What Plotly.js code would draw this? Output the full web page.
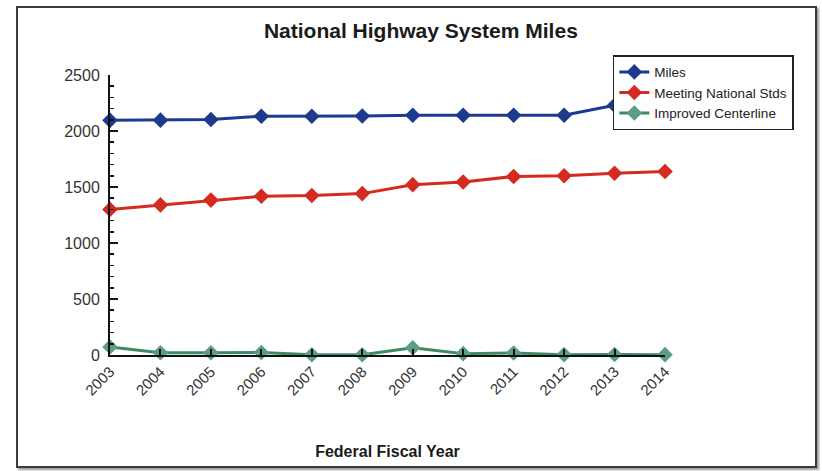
<!DOCTYPE html>
<html>
<head>
<meta charset="utf-8">
<script src="https://cdn.plot.ly/plotly-3.0.1.min.js"></script>
<style>
html,body{margin:0;padding:0;background:#fff;}
#wrap{position:relative;width:822px;height:471px;}
#chart{position:absolute;left:0;top:0;width:822px;height:471px;}
#frame{position:absolute;left:16px;top:6px;width:797px;height:458px;border:2px solid #3a3a3a;box-shadow:2px 2px 2px #999;pointer-events:none;}
</style>
</head>
<body>
<div id="wrap">
<div id="chart"></div>
<div id="frame"></div>
</div>
<script>
const years = [2003,2004,2005,2006,2007,2008,2009,2010,2011,2012,2013,2014];
const miles = [2095,2097,2103,2132,2132,2134,2141,2141,2141,2141,2229,2250];
const meetingStds = [1300,1340,1383,1418,1424,1441,1521,1544,1594,1600,1623,1638];
const improvedCenterline = [72,20,20,22,2,2,65,12,18,3,5,3];
const seriesNames = ['Miles','Meeting National Stds','Improved Centerline'];
const seriesColors = ['#1d3a8f','#d42a20','#5b9e84'];
const lineColors = ['#1d3a8f','#d42a20','#3f8a63'];

const seriesData = [miles, meetingStds, improvedCenterline];
const traces = seriesData.map((vals,i)=>({
  x: years, y: vals, name: seriesNames[i], type:'scatter', mode:'lines+markers',
  line:{color:lineColors[i], width:3},
  marker:{symbol:'diamond', size:12, color:seriesColors[i]},
  cliponaxis:false
}));

const font = 'Liberation Sans, Arial, sans-serif';
const layout = {
  width:822, height:471,
  margin:{l:110, r:157, t:75, b:116},
  paper_bgcolor:'rgba(0,0,0,0)', plot_bgcolor:'rgba(0,0,0,0)',
  title:{text:'<b>National Highway System Miles</b>', font:{family:font, size:21, color:'#1a1a1a'}, x:0.512, xanchor:'center', y:0.935, yanchor:'middle'},
  xaxis:{range:[2003,2014], tickvals:years, ticktext:years.map(String), tickangle:-45,
    showgrid:false, zeroline:false, showline:true, linecolor:'#111', linewidth:2,
    ticks:'inside', ticklen:6, tickwidth:2, tickcolor:'#111',
    tickfont:{family:font, size:15, color:'#333'},
    title:{text:'<b>Federal Fiscal Year</b>', font:{family:font, size:16, color:'#1a1a1a'}, standoff:48}},
  yaxis:{range:[0,2500], dtick:500, showgrid:false, zeroline:false, showline:true, linecolor:'#111', linewidth:2,
    ticks:'inside', ticklen:8, tickwidth:2, tickcolor:'#111', ticklabelstandoff:5,
    minor:{dtick:100, ticks:'inside', ticklen:4, tickwidth:1.5, tickcolor:'#111'},
    tickfont:{family:font, size:16, color:'#333'}},
  legend:{x:0.906, y:1.071, xanchor:'left', yanchor:'top', bgcolor:'#fff', bordercolor:'#222', borderwidth:1.5,
    font:{family:font, size:13.5, color:'#222'}, tracegroupgap:0, itemwidth:30},
  showlegend:true
};
Plotly.newPlot('chart', traces, layout, {displayModeBar:false, staticPlot:true});
</script>
</body>
</html>
